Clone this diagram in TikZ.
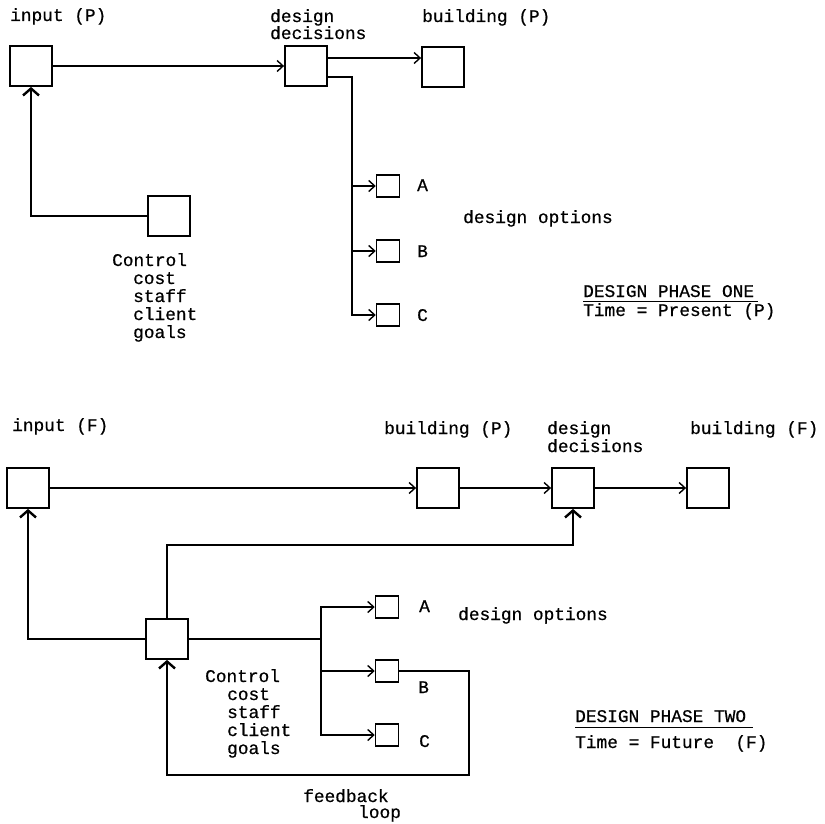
\documentclass[tikz,border=0pt]{standalone}
\usepackage{fontspec}
\setmonofont{Liberation Mono}[UprightFeatures={FakeBold=0.6}]
\usetikzlibrary{arrows.meta,calc}
\tikzset{
  bigbox/.style={draw, line width=1.8pt, minimum width=42pt, minimum height=40pt, inner sep=0pt},
  smallbox/.style={draw, line width=1.5pt, minimum width=23pt, minimum height=22pt, inner sep=0pt},
  conn/.style={line width=1.2pt},
  arr/.style={line width=1.2pt, -{Straight Barb[length=6pt,width=11pt,line width=1.4pt]}},
  uparr/.style={line width=1.2pt, -{Straight Barb[length=7pt,width=16pt,line width=2.4pt]}},
  txt/.style={font=\ttfamily\fontsize{17.8}{18}\selectfont, inner sep=0pt, anchor=base west}
}
\begin{document}
\begin{tikzpicture}[x=1pt,y=-1pt]
\useasboundingbox (0,0) rectangle (825,824);

% ---------- phase one ----------
\node[bigbox] (inP) at (31,66) {};
\node[bigbox] (ddP) at (306,66) {};
\node[bigbox] (bP) at (443,67) {};
\node[bigbox] (ctlP) at (169,216) {};
\node[smallbox] (oA1) at (388,186) {};
\node[smallbox] (oB1) at (388,251) {};
\node[smallbox] (oC1) at (388,315) {};

\draw[arr] (inP) -- (ddP);
\coordinate (d1) at ([yshift=8pt]ddP.east);
\draw[arr] (d1) -- (d1 -| bP.west);
\coordinate (d2) at ([yshift=-11pt]ddP.east);
\coordinate (bus1) at (352,200);
\draw[arr] (d2) -| (bus1 |- oC1.west) -- (oC1.west);
\draw[arr] (bus1 |- oA1.west) -- (oA1.west);
\draw[arr] (bus1 |- oB1.west) -- (oB1.west);
\draw[uparr] (ctlP.west) -| (inP.south);

\node[txt] (tinP) at (10,21) {input (P)};
\node[txt] (tdd1) at (270,22) {design};
\node[txt] (tdd2) at (270,39) {decisions};
\node[txt] (tbP) at (422,22) {building (P)};
\node[txt] (c1) at (112,266) {Control};
\node[txt] (c2) at (133,284) {cost};
\node[txt] (c3) at (133,302) {staff};
\node[txt] (c4) at (133,320) {client};
\node[txt] (c5) at (133,338) {goals};
\node[txt] (lA1) at (417,191) {A};
\node[txt] (lB1) at (417,257) {B};
\node[txt] (lC1) at (417,321) {C};
\node[txt] (do1) at (463,223) {design options};
\node[txt] (ph1) at (583,297) {DESIGN PHASE ONE};
\node[txt] (tm1) at (583,316) {Time = Present (P)};
\draw[line width=1pt] (583,301) -- (758,301);

% ---------- phase two ----------
\node[bigbox] (inF) at (28,488) {};
\node[bigbox] (bPF) at (438,488) {};
\node[bigbox] (ddF) at (573,488) {};
\node[bigbox] (bF) at (708,488) {};
\node[bigbox] (ctlF) at (167,639) {};
\node[smallbox] (oA2) at (387,607) {};
\node[smallbox] (oB2) at (387,671) {};
\node[smallbox] (oC2) at (387,735) {};

\draw[arr] (inF) -- (bPF);
\draw[arr] (bPF) -- (ddF);
\draw[arr] (ddF) -- (bF);
\coordinate (up2) at (300,545);
\draw[uparr] (ctlF.north) |- (up2 -| ddF.south) -- (ddF.south);
\draw[uparr] (ctlF.west) -| (inF.south);
\coordinate (bus2) at (321,650);
\draw[arr] (ctlF.east) -| (bus2 |- oA2.west) -- (oA2.west);
\draw[arr] (bus2 |- oA2.west) |- (oC2.west);
\draw[arr] (bus2 |- oB2.west) -- (oB2.west);
\coordinate (fb) at (469,775);
\draw[uparr] (oB2.east) -| (fb) -| (ctlF.south);

\node[txt] (tinF) at (12,431) {input (F)};
\node[txt] (tbPF) at (384,434) {building (P)};
\node[txt] (tdd3) at (547,434) {design};
\node[txt] (tdd4) at (547,452) {decisions};
\node[txt] (tbF) at (690,434) {building (F)};
\node[txt] (k1) at (205,682) {Control};
\node[txt] (k2) at (227,700) {cost};
\node[txt] (k3) at (227,718) {staff};
\node[txt] (k4) at (227,736) {client};
\node[txt] (k5) at (227,754) {goals};
\node[txt] (lA2) at (419,612) {A};
\node[txt] (lB2) at (418,693) {B};
\node[txt] (lC2) at (419,747) {C};
\node[txt] (do2) at (458,620) {design options};
\node[txt] (ph2) at (575,722) {DESIGN PHASE TWO};
\draw[line width=1pt] (575,727) -- (753,727);
\node[txt] (tm2) at (575,748) {Time = Future~~(F)};
\node[txt] (fb1) at (303,802) {feedback};
\node[txt] (fb2) at (358,818) {loop};
\end{tikzpicture}
\end{document}
